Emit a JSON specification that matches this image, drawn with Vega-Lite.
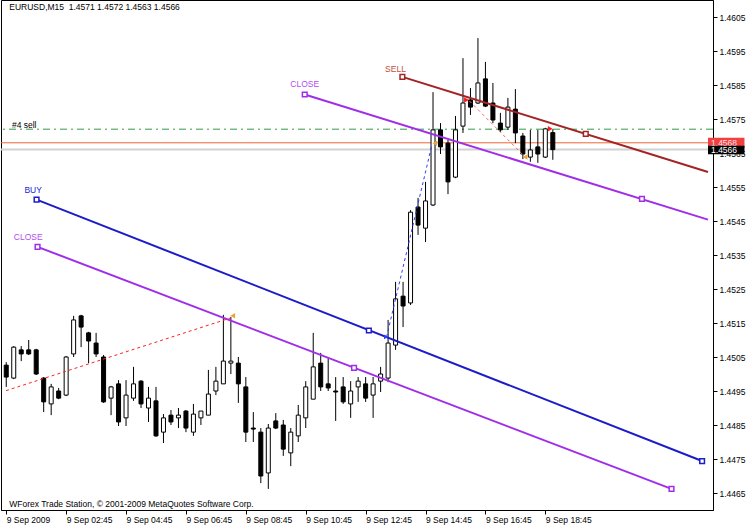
{
  "$schema": "https://vega.github.io/schema/vega-lite/v6.json",
  "width": 712,
  "height": 510,
  "autosize": {"type": "none"},
  "padding": {"left": 1, "top": 0, "right": 37, "bottom": 19},
  "background": "white",
  "config": {
    "view": {"stroke": "black", "strokeWidth": 1},
    "font": "Liberation Sans",
    "axis": {"domainColor": "black", "tickColor": "black", "tickSize": 4, "labelColor": "black", "labelFont": "Liberation Sans", "labelFontSize": 8.5, "grid": false, "labelOverlap": false, "labelFlush": false, "labelBound": false},
    "axisX": {"labelAlign": "left", "labelBaseline": "top", "labelPadding": 1},
    "axisY": {"labelAlign": "left", "labelBaseline": "middle", "labelPadding": 2}
  },
  "datasets": {
    "candles": [
      {"t": "2009-09-09T00:45", "o": 1.45026, "h": 1.45035, "l": 1.44962, "c": 1.44991},
      {"t": "2009-09-09T01:00", "o": 1.44988, "h": 1.45082, "l": 1.44985, "c": 1.45079},
      {"t": "2009-09-09T01:15", "o": 1.45071, "h": 1.45082, "l": 1.45038, "c": 1.45059},
      {"t": "2009-09-09T01:30", "o": 1.45071, "h": 1.45100, "l": 1.45056, "c": 1.45059},
      {"t": "2009-09-09T01:45", "o": 1.45071, "h": 1.45074, "l": 1.44997, "c": 1.45000},
      {"t": "2009-09-09T02:00", "o": 1.44988, "h": 1.44991, "l": 1.44888, "c": 1.44918},
      {"t": "2009-09-09T02:15", "o": 1.44912, "h": 1.44971, "l": 1.44879, "c": 1.44962},
      {"t": "2009-09-09T02:30", "o": 1.44950, "h": 1.44959, "l": 1.44926, "c": 1.44929},
      {"t": "2009-09-09T02:45", "o": 1.44938, "h": 1.45053, "l": 1.44935, "c": 1.45050},
      {"t": "2009-09-09T03:00", "o": 1.45059, "h": 1.45171, "l": 1.45050, "c": 1.45159},
      {"t": "2009-09-09T03:15", "o": 1.45171, "h": 1.45174, "l": 1.45079, "c": 1.45138},
      {"t": "2009-09-09T03:30", "o": 1.45121, "h": 1.45124, "l": 1.45032, "c": 1.45097},
      {"t": "2009-09-09T03:45", "o": 1.45091, "h": 1.45121, "l": 1.45050, "c": 1.45059},
      {"t": "2009-09-09T04:00", "o": 1.45050, "h": 1.45056, "l": 1.44915, "c": 1.44918},
      {"t": "2009-09-09T04:15", "o": 1.44929, "h": 1.44965, "l": 1.44879, "c": 1.44962},
      {"t": "2009-09-09T04:30", "o": 1.44971, "h": 1.44982, "l": 1.44847, "c": 1.44859},
      {"t": "2009-09-09T04:45", "o": 1.44871, "h": 1.44982, "l": 1.44847, "c": 1.44938},
      {"t": "2009-09-09T05:00", "o": 1.44929, "h": 1.45021, "l": 1.44921, "c": 1.44971},
      {"t": "2009-09-09T05:15", "o": 1.44979, "h": 1.44982, "l": 1.44900, "c": 1.44912},
      {"t": "2009-09-09T05:30", "o": 1.44900, "h": 1.44962, "l": 1.44859, "c": 1.44929},
      {"t": "2009-09-09T05:45", "o": 1.44921, "h": 1.44962, "l": 1.44815, "c": 1.44818},
      {"t": "2009-09-09T06:00", "o": 1.44829, "h": 1.44882, "l": 1.44797, "c": 1.44871},
      {"t": "2009-09-09T06:15", "o": 1.44879, "h": 1.44894, "l": 1.44850, "c": 1.44859},
      {"t": "2009-09-09T06:30", "o": 1.44871, "h": 1.44900, "l": 1.44841, "c": 1.44879},
      {"t": "2009-09-09T06:45", "o": 1.44891, "h": 1.44894, "l": 1.44829, "c": 1.44841},
      {"t": "2009-09-09T07:00", "o": 1.44829, "h": 1.44912, "l": 1.44818, "c": 1.44882},
      {"t": "2009-09-09T07:15", "o": 1.44871, "h": 1.44891, "l": 1.44850, "c": 1.44891},
      {"t": "2009-09-09T07:30", "o": 1.44879, "h": 1.45012, "l": 1.44879, "c": 1.44941},
      {"t": "2009-09-09T07:45", "o": 1.44950, "h": 1.45021, "l": 1.44938, "c": 1.44979},
      {"t": "2009-09-09T08:00", "o": 1.44971, "h": 1.45174, "l": 1.44971, "c": 1.45038},
      {"t": "2009-09-09T08:15", "o": 1.45032, "h": 1.45168, "l": 1.45000, "c": 1.45038},
      {"t": "2009-09-09T08:30", "o": 1.45032, "h": 1.45050, "l": 1.44915, "c": 1.44971},
      {"t": "2009-09-09T08:45", "o": 1.44962, "h": 1.44991, "l": 1.44800, "c": 1.44829},
      {"t": "2009-09-09T09:00", "o": 1.44841, "h": 1.44888, "l": 1.44800, "c": 1.44838},
      {"t": "2009-09-09T09:15", "o": 1.44829, "h": 1.44841, "l": 1.44679, "c": 1.44700},
      {"t": "2009-09-09T09:30", "o": 1.44709, "h": 1.44853, "l": 1.44662, "c": 1.44841},
      {"t": "2009-09-09T09:45", "o": 1.44862, "h": 1.44885, "l": 1.44838, "c": 1.44841},
      {"t": "2009-09-09T10:00", "o": 1.44850, "h": 1.44865, "l": 1.44759, "c": 1.44779},
      {"t": "2009-09-09T10:15", "o": 1.44768, "h": 1.44841, "l": 1.44729, "c": 1.44829},
      {"t": "2009-09-09T10:30", "o": 1.44818, "h": 1.44909, "l": 1.44800, "c": 1.44879},
      {"t": "2009-09-09T10:45", "o": 1.44871, "h": 1.44979, "l": 1.44841, "c": 1.44962},
      {"t": "2009-09-09T11:00", "o": 1.44926, "h": 1.45121, "l": 1.44926, "c": 1.45021},
      {"t": "2009-09-09T11:15", "o": 1.45032, "h": 1.45062, "l": 1.44950, "c": 1.44962},
      {"t": "2009-09-09T11:30", "o": 1.44971, "h": 1.45047, "l": 1.44950, "c": 1.44959},
      {"t": "2009-09-09T11:45", "o": 1.44950, "h": 1.44991, "l": 1.44862, "c": 1.44947},
      {"t": "2009-09-09T12:00", "o": 1.44962, "h": 1.44991, "l": 1.44912, "c": 1.44918},
      {"t": "2009-09-09T12:15", "o": 1.44912, "h": 1.44979, "l": 1.44871, "c": 1.44950},
      {"t": "2009-09-09T12:30", "o": 1.44962, "h": 1.44991, "l": 1.44918, "c": 1.44979},
      {"t": "2009-09-09T12:45", "o": 1.44971, "h": 1.44991, "l": 1.44918, "c": 1.44929},
      {"t": "2009-09-09T13:00", "o": 1.44938, "h": 1.44991, "l": 1.44871, "c": 1.44971},
      {"t": "2009-09-09T13:15", "o": 1.44979, "h": 1.45021, "l": 1.44947, "c": 1.45000},
      {"t": "2009-09-09T13:30", "o": 1.44988, "h": 1.45159, "l": 1.44976, "c": 1.45091},
      {"t": "2009-09-09T13:45", "o": 1.45085, "h": 1.45271, "l": 1.45071, "c": 1.45221},
      {"t": "2009-09-09T14:00", "o": 1.45229, "h": 1.45271, "l": 1.45138, "c": 1.45200},
      {"t": "2009-09-09T14:15", "o": 1.45209, "h": 1.45482, "l": 1.45203, "c": 1.45476},
      {"t": "2009-09-09T14:30", "o": 1.45491, "h": 1.45518, "l": 1.45409, "c": 1.45438},
      {"t": "2009-09-09T14:45", "o": 1.45429, "h": 1.45565, "l": 1.45388, "c": 1.45509},
      {"t": "2009-09-09T15:00", "o": 1.45497, "h": 1.45829, "l": 1.45494, "c": 1.45718},
      {"t": "2009-09-09T15:15", "o": 1.45718, "h": 1.45738, "l": 1.45647, "c": 1.45668},
      {"t": "2009-09-09T15:30", "o": 1.45679, "h": 1.45688, "l": 1.45529, "c": 1.45565},
      {"t": "2009-09-09T15:45", "o": 1.45579, "h": 1.45759, "l": 1.45576, "c": 1.45718},
      {"t": "2009-09-09T16:00", "o": 1.45729, "h": 1.45929, "l": 1.45709, "c": 1.45797},
      {"t": "2009-09-09T16:15", "o": 1.45806, "h": 1.45841, "l": 1.45762, "c": 1.45785},
      {"t": "2009-09-09T16:30", "o": 1.45797, "h": 1.45988, "l": 1.45794, "c": 1.45856},
      {"t": "2009-09-09T16:45", "o": 1.45868, "h": 1.45918, "l": 1.45785, "c": 1.45788},
      {"t": "2009-09-09T17:00", "o": 1.45797, "h": 1.45856, "l": 1.45738, "c": 1.45747},
      {"t": "2009-09-09T17:15", "o": 1.45738, "h": 1.45768, "l": 1.45712, "c": 1.45718},
      {"t": "2009-09-09T17:30", "o": 1.45726, "h": 1.45812, "l": 1.45718, "c": 1.45785},
      {"t": "2009-09-09T17:45", "o": 1.45779, "h": 1.45838, "l": 1.45679, "c": 1.45709},
      {"t": "2009-09-09T18:00", "o": 1.45700, "h": 1.45709, "l": 1.45632, "c": 1.45647},
      {"t": "2009-09-09T18:15", "o": 1.45638, "h": 1.45718, "l": 1.45624, "c": 1.45659},
      {"t": "2009-09-09T18:30", "o": 1.45668, "h": 1.45718, "l": 1.45621, "c": 1.45647},
      {"t": "2009-09-09T18:45", "o": 1.45638, "h": 1.45724, "l": 1.45635, "c": 1.45721},
      {"t": "2009-09-09T19:00", "o": 1.4571, "h": 1.4572, "l": 1.4563, "c": 1.4566}
    ],
    "hlines": [
      {"name": "order", "p": 1.4572},
      {"name": "ask", "p": 1.4568},
      {"name": "bid", "p": 1.4566}
    ],
    "segments": [
      {"id": "buy", "t": "2009-09-09T01:45:45", "p": 1.45513},
      {"id": "buy", "t": "2009-09-09T23:59:06", "p": 1.44744},
      {"id": "close1", "t": "2009-09-09T01:47:43", "p": 1.45374},
      {"id": "close1", "t": "2009-09-09T22:57:48", "p": 1.44662},
      {"id": "close2", "t": "2009-09-09T10:43:00", "p": 1.45822},
      {"id": "close2", "t": "2009-09-10T00:10:54", "p": 1.45454},
      {"id": "sell", "t": "2009-09-09T13:58:36", "p": 1.45874},
      {"id": "sell", "t": "2009-09-10T00:10:54", "p": 1.45594},
      {"id": "tr1", "t": "2009-09-09T00:44:31", "p": 1.44951},
      {"id": "tr1", "t": "2009-09-09T08:14:54", "p": 1.45165},
      {"id": "tr2", "t": "2009-09-09T13:27:00", "p": 1.45109},
      {"id": "tr2", "t": "2009-09-09T14:57:48", "p": 1.45674},
      {"id": "tr3", "t": "2009-09-09T16:12:54", "p": 1.45803},
      {"id": "tr3", "t": "2009-09-09T18:00:36", "p": 1.45644}
    ],
    "squares": [
      {"id": "buy", "t": "2009-09-09T01:45:45", "p": 1.45513},
      {"id": "buy", "t": "2009-09-09T12:51:25", "p": 1.45128},
      {"id": "buy", "t": "2009-09-09T23:59:06", "p": 1.44744},
      {"id": "close1", "t": "2009-09-09T01:47:43", "p": 1.45374},
      {"id": "close1", "t": "2009-09-09T12:21:48", "p": 1.45018},
      {"id": "close1", "t": "2009-09-09T22:57:48", "p": 1.44662},
      {"id": "close2", "t": "2009-09-09T10:43:00", "p": 1.45822},
      {"id": "close2", "t": "2009-09-09T21:58:36", "p": 1.45515},
      {"id": "sell", "t": "2009-09-09T13:58:36", "p": 1.45874},
      {"id": "sell", "t": "2009-09-09T20:06:00", "p": 1.45706}
    ],
    "arrows": [
      {"kind": "open", "t": "2009-09-09T16:07:00", "p": 1.45806},
      {"kind": "open", "t": "2009-09-09T18:54:54", "p": 1.45721},
      {"kind": "closed", "t": "2009-09-09T08:18:50", "p": 1.45171},
      {"kind": "closed", "t": "2009-09-09T15:03:42", "p": 1.45679},
      {"kind": "closed", "t": "2009-09-09T18:04:30", "p": 1.45638},
      {"kind": "buyopen", "t": "2009-09-09T13:25:48", "p": 1.45109}
    ],
    "labels": [
      {"kind": "BUY", "text": "BUY", "t": "2009-09-09T01:38:50", "p": 1.45541},
      {"kind": "CLOSE", "text": "CLOSE", "t": "2009-09-09T01:28:57", "p": 1.45403},
      {"kind": "CLOSE", "text": "CLOSE", "t": "2009-09-09T10:43:00", "p": 1.45853},
      {"kind": "SELL", "text": "SELL", "t": "2009-09-09T13:44:46", "p": 1.45897}
    ],
    "notes": [
      {"text": "EURUSD,M15\u00a0 1.4571 1.4572 1.4563 1.4566", "t": "2009-09-09T00:51:00", "p": 1.46079},
      {"text": "WForex Trade Station, \u00a9 2001-2009 MetaQuotes Software Corp.", "t": "2009-09-09T00:51:00", "p": 1.44618},
      {"text": "#4 sell", "t": "2009-09-09T00:56:21", "p": 1.45732}
    ],
    "boxes": [
      {"name": "ask", "t1": "2009-09-10T00:10:54", "t2": "2009-09-10T01:24:00", "p1": 1.45695, "p2": 1.45665, "tt": "2009-09-10T00:17:00", "pt": 1.4568, "text": "1.4568"},
      {"name": "bid", "t1": "2009-09-10T00:10:54", "t2": "2009-09-10T01:24:00", "p1": 1.45671, "p2": 1.45646, "tt": "2009-09-10T00:17:00", "pt": 1.45658, "text": "1.4566"}
    ]
  },
  "layer": [
    {
      "data": {"name": "hlines"},
      "transform": [{"filter": "datum.name == 'order'"}],
      "mark": {"type": "rule", "color": "#2f9a4c", "strokeWidth": 1, "strokeDash": [7, 4, 2, 4]},
      "encoding": {
        "y": {"field": "p", "type": "quantitative", "scale": {"domain": [1.446, 1.461], "nice": false, "zero": false}, "axis": {"title": null, "orient": "right", "format": ".4f", "labelOverlap": false, "tickCount": 15, "values": [1.4465, 1.4475, 1.4485, 1.4495, 1.4505, 1.4515, 1.4525, 1.4535, 1.4545, 1.4555, 1.4565, 1.4575, 1.4585, 1.4595, 1.4605]}}
      }
    },
    {
      "data": {"name": "hlines"},
      "transform": [{"filter": "datum.name == 'ask'"}],
      "mark": {"type": "rule", "color": "#f0653a", "strokeWidth": 1},
      "encoding": {"y": {"field": "p", "type": "quantitative"}}
    },
    {
      "data": {"name": "hlines"},
      "transform": [{"filter": "datum.name == 'bid'"}],
      "mark": {"type": "rule", "color": "#d2d2d2", "strokeWidth": 2},
      "encoding": {"y": {"field": "p", "type": "quantitative"}}
    },
    {
      "data": {"name": "candles"},
      "mark": {"type": "rule", "color": "black", "strokeWidth": 1},
      "encoding": {
        "x": {"field": "t", "type": "temporal",
          "scale": {"domain": [{"year": 2009, "month": 9, "date": 9, "hours": 0, "minutes": 44, "seconds": 30}, {"year": 2009, "month": 9, "date": 10, "hours": 0, "minutes": 10, "seconds": 54}], "nice": false},
          "axis": {"title": null, "orient": "bottom", "labelOverlap": false,
            "values": [
              {"year": 2009, "month": 9, "date": 9, "hours": 0, "minutes": 45},
              {"year": 2009, "month": 9, "date": 9, "hours": 2, "minutes": 45},
              {"year": 2009, "month": 9, "date": 9, "hours": 4, "minutes": 45},
              {"year": 2009, "month": 9, "date": 9, "hours": 6, "minutes": 45},
              {"year": 2009, "month": 9, "date": 9, "hours": 8, "minutes": 45},
              {"year": 2009, "month": 9, "date": 9, "hours": 10, "minutes": 45},
              {"year": 2009, "month": 9, "date": 9, "hours": 12, "minutes": 45},
              {"year": 2009, "month": 9, "date": 9, "hours": 14, "minutes": 45},
              {"year": 2009, "month": 9, "date": 9, "hours": 16, "minutes": 45},
              {"year": 2009, "month": 9, "date": 9, "hours": 18, "minutes": 45}
            ],
            "labelExpr": "hours(datum.value) == 0 ? '9 Sep 2009' : timeFormat(datum.value, '%-d %b %H:%M')"}},
        "y": {"field": "l", "type": "quantitative"},
        "y2": {"field": "h"}
      }
    },
    {
      "data": {"name": "candles"},
      "mark": {"type": "bar", "size": 4, "stroke": "black", "strokeWidth": 1},
      "encoding": {
        "x": {"field": "t", "type": "temporal"},
        "y": {"field": "o", "type": "quantitative"},
        "y2": {"field": "c"},
        "fill": {"condition": {"test": "datum.c >= datum.o", "value": "white"}, "value": "black"}
      }
    },
    {
      "data": {"name": "segments"},
      "transform": [{"filter": "indexof(['buy','close1','close2','sell'], datum.id) >= 0"}],
      "mark": {"type": "line", "strokeWidth": 2},
      "encoding": {
        "x": {"field": "t", "type": "temporal"},
        "y": {"field": "p", "type": "quantitative"},
        "color": {"field": "id", "type": "nominal", "legend": null, "scale": {"domain": ["buy", "close1", "close2", "sell", "tr1", "tr2", "tr3"], "range": ["#1c1cc8", "#a02ee8", "#a02ee8", "#a32424", "#ff2020", "#2a3cff", "#f06a6a"]}}
      }
    },
    {
      "data": {"name": "segments"},
      "transform": [{"filter": "indexof(['tr1','tr2','tr3'], datum.id) >= 0"}],
      "mark": {"type": "line", "strokeWidth": 1, "strokeDash": [3, 3]},
      "encoding": {
        "x": {"field": "t", "type": "temporal"},
        "y": {"field": "p", "type": "quantitative"},
        "color": {"field": "id", "type": "nominal", "legend": null}
      }
    },
    {
      "data": {"name": "squares"},
      "mark": {"type": "point", "shape": "square", "size": 22, "filled": false, "fill": "white", "fillOpacity": 1, "strokeWidth": 1.5, "opacity": 1},
      "encoding": {
        "x": {"field": "t", "type": "temporal"},
        "y": {"field": "p", "type": "quantitative"},
        "stroke": {"field": "id", "type": "nominal", "legend": null, "scale": {"domain": ["buy", "close1", "close2", "sell"], "range": ["#1c1cc8", "#a02ee8", "#a02ee8", "#a32424"]}}
      }
    },
    {
      "data": {"name": "arrows"},
      "transform": [{"filter": "datum.kind == 'open'"}],
      "mark": {"type": "point", "shape": "triangle-right", "size": 30, "filled": true, "color": "#ff1a1a", "opacity": 1},
      "encoding": {"x": {"field": "t", "type": "temporal"}, "y": {"field": "p", "type": "quantitative"}}
    },
    {
      "data": {"name": "arrows"},
      "transform": [{"filter": "datum.kind == 'closed'"}],
      "mark": {"type": "point", "shape": "triangle-left", "size": 30, "filled": true, "color": "#e8a53c", "opacity": 1},
      "encoding": {"x": {"field": "t", "type": "temporal"}, "y": {"field": "p", "type": "quantitative"}}
    },
    {
      "data": {"name": "arrows"},
      "transform": [{"filter": "datum.kind == 'buyopen'"}],
      "mark": {"type": "point", "shape": "triangle-right", "size": 22, "filled": true, "color": "#2a3cff", "opacity": 1},
      "encoding": {"x": {"field": "t", "type": "temporal"}, "y": {"field": "p", "type": "quantitative"}}
    },
    {
      "data": {"name": "labels"},
      "transform": [{"filter": "datum.kind == 'BUY'"}],
      "mark": {"type": "text", "align": "center", "baseline": "middle", "fontSize": 8.5, "color": "#2020d8"},
      "encoding": {"x": {"field": "t", "type": "temporal"}, "y": {"field": "p", "type": "quantitative"}, "text": {"field": "text"}}
    },
    {
      "data": {"name": "labels"},
      "transform": [{"filter": "datum.kind == 'CLOSE'"}],
      "mark": {"type": "text", "align": "center", "baseline": "middle", "fontSize": 8.5, "color": "#b04cf0"},
      "encoding": {"x": {"field": "t", "type": "temporal"}, "y": {"field": "p", "type": "quantitative"}, "text": {"field": "text"}}
    },
    {
      "data": {"name": "labels"},
      "transform": [{"filter": "datum.kind == 'SELL'"}],
      "mark": {"type": "text", "align": "center", "baseline": "middle", "fontSize": 8.5, "color": "#c0503c"},
      "encoding": {"x": {"field": "t", "type": "temporal"}, "y": {"field": "p", "type": "quantitative"}, "text": {"field": "text"}}
    },
    {
      "data": {"name": "notes"},
      "mark": {"type": "text", "align": "left", "baseline": "middle", "fontSize": 8.5, "color": "black"},
      "encoding": {"x": {"field": "t", "type": "temporal"}, "y": {"field": "p", "type": "quantitative"}, "text": {"field": "text"}}
    },
    {
      "data": {"name": "boxes"},
      "transform": [{"filter": "datum.name == 'ask'"}],
      "mark": {"type": "rect", "color": "#f04040"},
      "encoding": {"x": {"field": "t1", "type": "temporal"}, "x2": {"field": "t2"}, "y": {"field": "p1", "type": "quantitative"}, "y2": {"field": "p2"}}
    },
    {
      "data": {"name": "boxes"},
      "transform": [{"filter": "datum.name == 'ask'"}],
      "mark": {"type": "text", "align": "left", "baseline": "middle", "fontSize": 8.5, "color": "#ffe0e0"},
      "encoding": {"x": {"field": "tt", "type": "temporal"}, "y": {"field": "pt", "type": "quantitative"}, "text": {"field": "text"}}
    },
    {
      "data": {"name": "boxes"},
      "transform": [{"filter": "datum.name == 'bid'"}],
      "mark": {"type": "rect", "color": "black"},
      "encoding": {"x": {"field": "t1", "type": "temporal"}, "x2": {"field": "t2"}, "y": {"field": "p1", "type": "quantitative"}, "y2": {"field": "p2"}}
    },
    {
      "data": {"name": "boxes"},
      "transform": [{"filter": "datum.name == 'bid'"}],
      "mark": {"type": "text", "align": "left", "baseline": "middle", "fontSize": 8.5, "color": "white"},
      "encoding": {"x": {"field": "tt", "type": "temporal"}, "y": {"field": "pt", "type": "quantitative"}, "text": {"field": "text"}}
    }
  ]
}
